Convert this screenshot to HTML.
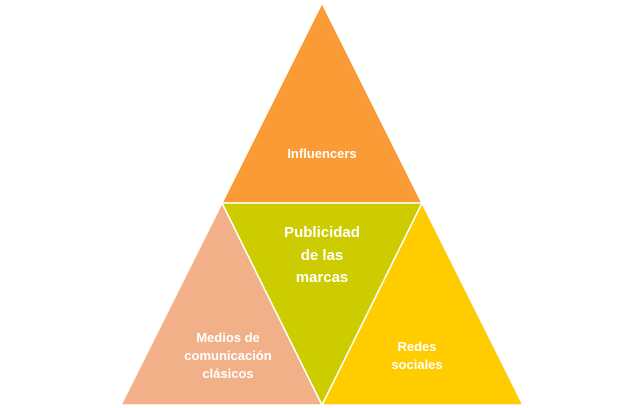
<!DOCTYPE html>
<html><head><meta charset="utf-8"><style>body{margin:0;background:#fff}svg{display:block}text{font-family:"Liberation Sans",sans-serif;font-weight:bold;fill:#fff;text-anchor:middle}</style></head><body>
<svg width="644" height="408" viewBox="0 0 644 408">
<g stroke="#fff" stroke-width="1.5">
<polygon points="322,3 222,203 422,203" fill="#FA9B36"/>
<polygon points="222,203 121,405 322,405" fill="#F2B088"/>
<polygon points="422,203 322,405 523,405" fill="#FFCC00"/>
<polygon points="222,203 422,203 322,405" fill="#CCCC00"/>
</g>
<text x="322" y="158" font-size="13">Influencers</text>
<text font-size="15"><tspan x="322" y="237">Publicidad</tspan><tspan x="322" y="260">de las</tspan><tspan x="322" y="282">marcas</tspan></text>
<text font-size="13"><tspan x="228" y="342">Medios de</tspan><tspan x="228" y="360">comunicación</tspan><tspan x="228" y="378">clásicos</tspan></text>
<text font-size="13"><tspan x="417" y="351">Redes</tspan><tspan x="417" y="369">sociales</tspan></text>
</svg>
</body></html>
